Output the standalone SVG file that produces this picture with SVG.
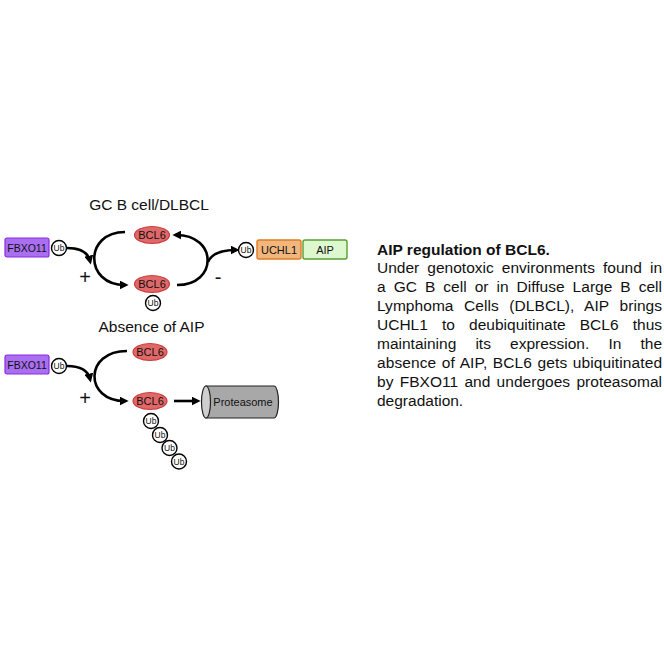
<svg xmlns="http://www.w3.org/2000/svg" width="664" height="664" viewBox="0 0 664 664">
<defs>
<marker id="ah" viewBox="0 0 10 10" markerWidth="9" markerHeight="9" refX="6" refY="5" orient="auto" markerUnits="userSpaceOnUse">
<path d="M0,0 L10,5 L0,10 z" fill="#000"/>
</marker>
</defs>
<style>
text{font-family:"Liberation Sans",Arial,sans-serif;fill:#111}
.t{font-size:15.5px}
.lbl{font-size:11px;text-anchor:middle}
.ub{font-size:8.5px;text-anchor:middle}
.sign{font-size:20px;text-anchor:middle}
.fbx{fill:#a96ff0;stroke:#8a2be2;stroke-width:1.2}
.uch{fill:#f1b67e;stroke:#e07b22;stroke-width:1.4}
.aip{fill:#ddf7cf;stroke:#5a9e34;stroke-width:1.4}
.bcl{fill:#e06868;stroke:#cc3b3b;stroke-width:1.2}
.ubc{fill:#fff;stroke:#000;stroke-width:1.4}
.c{fill:none;stroke:#000;stroke-width:2.6}
.ca{fill:none;stroke:#000;stroke-width:2.6;marker-end:url(#ah)}
</style>
<rect width="664" height="664" fill="#fff"/>

<text class="t" x="149" y="210" text-anchor="middle">GC B cell/DLBCL</text>
<text class="t" x="151.5" y="332" text-anchor="middle">Absence of AIP</text>

<g id="connectors">
<path class="ca" d="M67,248 Q87,248 90,261"/>
<path class="ca" d="M125,232 C84,232 84,285 125,285"/>
<path class="ca" d="M177,285 C218,285 218,235 176,235"/>
<path class="ca" d="M208,262 Q213,250 236,250"/>
<path class="ca" d="M67,366 Q87,366 90,379"/>
<path class="ca" d="M127,351 C84,351 84,401 125,401"/>
<path class="ca" d="M174,401 L197,401"/>
</g>

<text class="sign" x="85" y="284">+</text>
<text class="sign" x="218" y="284">-</text>
<text class="sign" x="85" y="405">+</text>

<g id="fbxo11-top">
<rect class="fbx" x="5" y="238" width="44" height="19" rx="2"/>
<text class="lbl" x="27" y="251.5" style="font-size:10.5px">FBXO11</text>
</g>
<g id="ub-fbxo11-top">
<circle class="ubc" cx="59" cy="248" r="7.5"/>
<text class="ub" x="59" y="251">Ub</text>
</g>
<g id="bcl6-top-1">
<ellipse class="bcl" cx="152" cy="235" rx="17.5" ry="8.5"/>
<text class="lbl" x="152" y="239">BCL6</text>
</g>
<g id="bcl6-top-2">
<ellipse class="bcl" cx="152" cy="284" rx="17.5" ry="8.5"/>
<text class="lbl" x="152" y="288">BCL6</text>
</g>
<g id="ub-bcl6-top">
<circle class="ubc" cx="153" cy="303" r="7.5"/>
<text class="ub" x="153" y="306">Ub</text>
</g>
<g id="ub-uchl1">
<circle class="ubc" cx="246" cy="250" r="7.5"/>
<text class="ub" x="246" y="253">Ub</text>
</g>
<g id="uchl1">
<rect class="uch" x="257" y="240" width="44" height="19" rx="2"/>
<text class="lbl" x="279" y="253.5">UCHL1</text>
</g>
<g id="aip">
<rect class="aip" x="303" y="240" width="44" height="19" rx="2"/>
<text class="lbl" x="325" y="253.5">AIP</text>
</g>

<g id="fbxo11-bottom">
<rect class="fbx" x="5" y="355" width="44" height="19" rx="2"/>
<text class="lbl" x="27" y="368.5" style="font-size:10.5px">FBXO11</text>
</g>
<g id="ub-fbxo11-bottom">
<circle class="ubc" cx="59" cy="366" r="7.5"/>
<text class="ub" x="59" y="369">Ub</text>
</g>
<g id="bcl6-bottom-1">
<ellipse class="bcl" cx="150" cy="352" rx="17" ry="8.5"/>
<text class="lbl" x="150" y="356">BCL6</text>
</g>
<g id="bcl6-bottom-2">
<ellipse class="bcl" cx="150" cy="401" rx="17" ry="8.5"/>
<text class="lbl" x="150" y="405">BCL6</text>
</g>
<g id="ub-chain">
<circle class="ubc" cx="151" cy="421" r="7.5"/>
<text class="ub" x="151" y="424">Ub</text>
<circle class="ubc" cx="160" cy="435" r="7.5"/>
<text class="ub" x="160" y="438">Ub</text>
<circle class="ubc" cx="169.5" cy="448" r="7.5"/>
<text class="ub" x="169.5" y="451">Ub</text>
<circle class="ubc" cx="179" cy="461.5" r="7.5"/>
<text class="ub" x="179" y="464.5">Ub</text>
</g>
<g id="proteasome">
<path d="M206,386 L274,386 A4.5,16 0 0 1 274,418 L206,418 z" fill="#a8a8a8" stroke="#222" stroke-width="1.2"/>
<ellipse cx="206" cy="402" rx="4.5" ry="16" fill="#cfcfcf" stroke="#222" stroke-width="1.2"/>
<text class="lbl" x="243" y="406">Proteasome</text>
</g>

<g id="caption">
<text class="t" x="377" y="254.5" font-weight="bold">AIP regulation of BCL6.</text>
<text class="t" x="377" y="273.4" word-spacing="3.8" textLength="285" lengthAdjust="spacing">Under genotoxic environments found in</text>
<text class="t" x="377" y="292.3" word-spacing="3.7" textLength="285" lengthAdjust="spacing">a GC B cell or in Diffuse Large B cell</text>
<text class="t" x="377" y="311.2" word-spacing="6.2" textLength="285" lengthAdjust="spacing">Lymphoma Cells (DLBCL), AIP brings</text>
<text class="t" x="377" y="330.1" word-spacing="9.9" textLength="285" lengthAdjust="spacing">UCHL1 to deubiquitinate BCL6 thus</text>
<text class="t" x="377" y="349" word-spacing="14.8" textLength="285" lengthAdjust="spacing">maintaining its expression. In the</text>
<text class="t" x="377" y="367.9" word-spacing="1.1" textLength="285" lengthAdjust="spacing">absence of AIP, BCL6 gets ubiquitinated</text>
<text class="t" x="377" y="386.8" word-spacing="1.9" textLength="285" lengthAdjust="spacing">by FBXO11 and undergoes proteasomal</text>
<text class="t" x="377" y="405.7">degradation.</text>
</g>
</svg>
